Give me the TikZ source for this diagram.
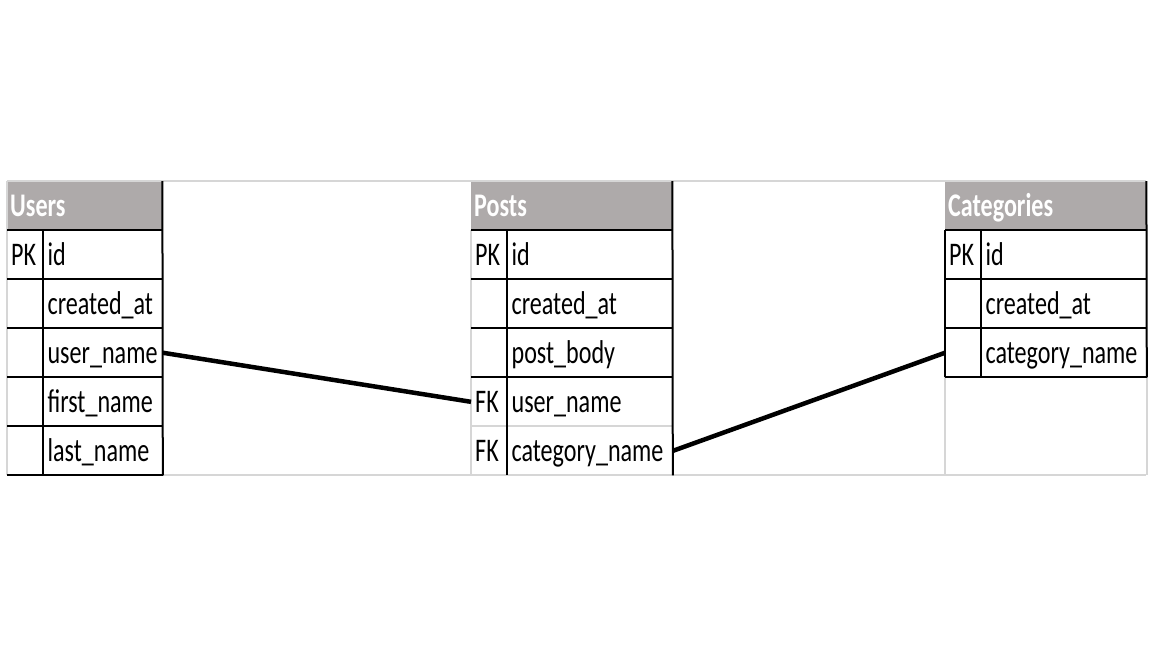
\documentclass[tikz,border=0pt]{standalone}
\usepackage{fontspec}
\setmainfont{Carlito}
\usetikzlibrary{positioning}
\definecolor{hdrgray}{HTML}{AEAAAA}
\definecolor{gridgray}{HTML}{D6D6D6}
\newcommand{\nrw}[1]{\scalebox{0.73}[1]{#1}}
\tikzset{cell/.style={inner xsep=4pt, inner ysep=0pt, minimum height=48.67pt, text height=22pt, text depth=1pt, align=left, font=\fontsize{33}{36}\selectfont}}
\tikzset{keycell/.style={cell, text width=28pt}}
\tikzset{namecell/.style={cell, text width=#1}}
\tikzset{hdr/.style={cell, fill=hdrgray, text=white, inner xsep=3pt, text width=#1, font=\fontsize{33}{36}\selectfont\bfseries}}
\tikzset{blk/.style={line width=2pt}}
\tikzset{grd/.style={draw=gridgray, line width=2pt}}
\tikzset{link/.style={line width=4.5pt}}

\begin{document}
\begin{tikzpicture}[x=1pt, y=-1pt]
\useasboundingbox (0,0) rectangle (1152,648);

% Users
\node[hdr=149pt, anchor=north west] (uh) at (7,181) {\nrw{Users}};
\node[keycell, anchor=north west] (uk1) at (uh.south west) {\nrw{PK}};
\node[keycell, below=0pt of uk1] (uk2) {};
\node[keycell, below=0pt of uk2] (uk3) {};
\node[keycell, below=0pt of uk3] (uk4) {};
\node[keycell, below=0pt of uk4] (uk5) {};
\node[namecell=111pt, right=0pt of uk1] (un1) {\nrw{id}};
\node[namecell=111pt, right=0pt of uk2] (un2) {\nrw{created\_at}};
\node[namecell=111pt, right=0pt of uk3] (un3) {\nrw{user\_name}};
\node[namecell=111pt, right=0pt of uk4] (un4) {\nrw{first\_name}};
\node[namecell=111pt, right=0pt of uk5] (un5) {\nrw{last\_name}};

% Posts
\node[hdr=195pt, anchor=north west] (ph) at (471,181) {\nrw{Posts}};
\node[keycell, anchor=north west] (pk1) at (ph.south west) {\nrw{PK}};
\node[keycell, below=0pt of pk1] (pk2) {};
\node[keycell, below=0pt of pk2] (pk3) {};
\node[keycell, below=0pt of pk3] (pk4) {\nrw{FK}};
\node[keycell, below=0pt of pk4] (pk5) {\nrw{FK}};
\node[namecell=157pt, right=0pt of pk1] (pn1) {\nrw{id}};
\node[namecell=157pt, right=0pt of pk2] (pn2) {\nrw{created\_at}};
\node[namecell=157pt, right=0pt of pk3] (pn3) {\nrw{post\_body}};
\node[namecell=157pt, right=0pt of pk4] (pn4) {\nrw{user\_name}};
\node[namecell=157pt, right=0pt of pk5] (pn5) {\nrw{category\_name}};

% Categories
\node[hdr=195pt, anchor=north west] (ch) at (945,181) {\nrw{Categories}};
\node[keycell, anchor=north west] (ck1) at (ch.south west) {\nrw{PK}};
\node[keycell, below=0pt of ck1] (ck2) {};
\node[keycell, below=0pt of ck2] (ck3) {};
\node[namecell=157pt, right=0pt of ck1] (cn1) {\nrw{id}};
\node[namecell=157pt, right=0pt of ck2] (cn2) {\nrw{created\_at}};
\node[namecell=157pt, right=0pt of ck3] (cn3) {\nrw{category\_name}};

% sheet grid
\draw[grd] (uh.north west) -- (ch.north east);
\draw[grd] (uk5.south west) -- (uk5.south west -| ch.east);
\draw[grd] (uh.north west) -- (uk5.south west);
\draw[grd] (pk1.north west) -- (pk5.south west);
\draw[grd] (pk5.north west) -- (pn5.north east);
\draw[grd] (ck3.south west) -- (ck3.south west |- uk5.south);
\draw[grd] (cn3.south east) -- (cn3.south east |- uk5.south);

% table borders
\draw[blk] (uh.north east) -- (un5.south east);
\draw[blk] (uk1.north east) -- (uk5.south east);
\foreach \i in {1,...,5} \draw[blk] (uk\i.north west) -- (un\i.north east);
\draw[blk] (uk5.south west) -- (un5.south east);

\draw[blk] (ph.north east) -- (pn5.south east);
\draw[blk] (pk1.north east) -- (pk5.south east);
\foreach \i in {1,...,4} \draw[blk] (pk\i.north west) -- (pn\i.north east);

\draw[blk] (ch.north east) -- (cn3.south east);
\draw[blk] (ck1.north west) -- (ck3.south west);
\draw[blk] (ck1.north east) -- (ck3.south east);
\foreach \i in {1,...,3} \draw[blk] (ck\i.north west) -- (cn\i.north east);
\draw[blk] (ck3.south west) -- (cn3.south east);

% links
\draw[link] (un3.east) -- (pk4.west);
\draw[link] (pn5.east) -- (ck3.west);
\end{tikzpicture}
\end{document}
